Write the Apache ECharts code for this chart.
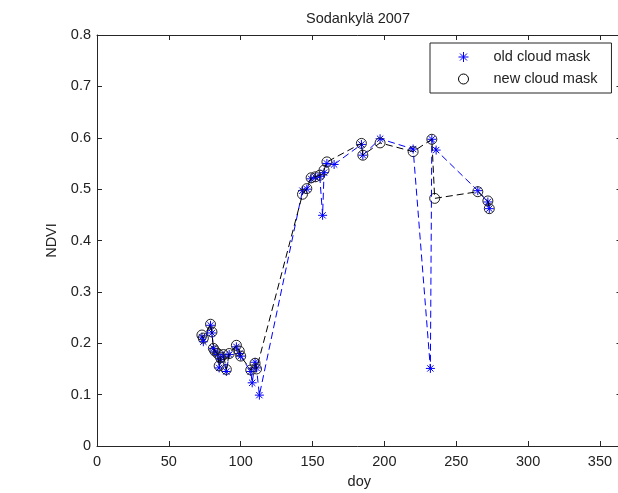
<!DOCTYPE html>
<html>
	<head>
		<meta charset="utf-8">
		<title>Sodankylä 2007</title>
		<script src="https://cdn.jsdelivr.net/npm/echarts@6/dist/echarts.min.js"></script>
		<style>
			html, body { margin:0; padding:0; background:#fff; }
			#chart { width:618px; height:493px; }
		</style>
	</head>
	<body>
		<div id="chart"></div>
		<script type="text/javascript">
			// old cloud mask (blue stars)
			var oldDoy  = [73, 74, 79, 80, 81, 82, 84, 85, 86, 88, 90, 92, 97, 99, 100, 107, 108, 110, 111, 113,
			               143, 146, 149, 152, 155, 157, 158, 160, 165, 184, 185, 197, 220, 232, 233, 236, 265, 272, 273];
			var oldNdvi = [0.212, 0.203, 0.235, 0.22, 0.19, 0.183, 0.178, 0.152, 0.168, 0.175, 0.145, 0.178, 0.193, 0.18, 0.175, 0.145, 0.123, 0.163, 0.152, 0.099,
			               0.497, 0.5, 0.52, 0.523, 0.525, 0.449, 0.532, 0.55, 0.548, 0.587, 0.566, 0.598, 0.578, 0.151, 0.597, 0.576, 0.497, 0.475, 0.462];
			// new cloud mask (black circles)
			var newDoy  = [73, 74, 79, 80, 81, 82, 84, 85, 86, 88, 90, 92, 97, 99, 100, 107, 110, 111,
			               143, 146, 149, 152, 155, 158, 160, 184, 185, 197, 220, 233, 235, 265, 272, 273];
			var newNdvi = [0.216, 0.21, 0.237, 0.222, 0.19, 0.185, 0.18, 0.156, 0.172, 0.178, 0.149, 0.18, 0.196, 0.185, 0.175, 0.148, 0.161, 0.15,
			               0.49, 0.501, 0.522, 0.524, 0.527, 0.537, 0.553, 0.589, 0.566, 0.59, 0.573, 0.597, 0.482, 0.495, 0.477, 0.462];
			var seriesNames = ['old cloud mask', 'new cloud mask'];
			var titleText = 'Sodankylä 2007';

			function pairs(xs, ys) {
				var out = [];
				for (var i = 0; i < xs.length; i++) out.push([xs[i], ys[i]]);
				return out;
			}

			var FONT = 'Liberation Sans';
			var AX = '#262626';
			var starPath = 'path://M5,0L5,10M0,5L10,5M1.5,1.5L8.5,8.5M1.5,8.5L8.5,1.5';

			function axisStyle() {
				return {
					axisLine: {onZero: false, lineStyle: {color: AX, width: 1}},
					axisTick: {inside: true, length: 5, lineStyle: {color: AX}},
					splitLine: {show: false}
				};
			}

			var myChart = echarts.init(document.getElementById('chart'));
			myChart.setOption({
				animation: false,
				backgroundColor: '#fff',
				title: {
					text: titleText,
					left: 301, top: 6,
					textStyle: {fontFamily: FONT, fontSize: 14.5, fontWeight: 'normal', color: '#222'}
				},
				grid: {left: 97, top: 35, width: 524.5, height: 411, containLabel: false, outerBoundsMode: 'none'},
				legend: {
					orient: 'vertical',
					left: 430, top: 43,
					padding: [6, 14, 6, 28],
					itemGap: 6,
					itemWidth: 10, itemHeight: 10,
					backgroundColor: '#fff',
					borderColor: AX, borderWidth: 1, borderRadius: 0,
					textStyle: {fontFamily: FONT, fontSize: 14.5, color: '#222', lineHeight: 16, padding: [0, 0, 0, 20]},
					data: [
						{name: seriesNames[0], icon: starPath, itemStyle: {color: '#0000ff', borderColor: '#0000ff', borderWidth: 1}},
						{name: seriesNames[1], icon: 'circle', itemStyle: {color: 'rgba(0,0,0,0)', borderColor: '#000', borderWidth: 1}}
					]
				},
				xAxis: [
					Object.assign({
						type: 'value', min: 0, max: 365, interval: 50,
						name: 'doy', nameLocation: 'middle', nameGap: 28,
						nameTextStyle: {fontFamily: FONT, fontSize: 14.5, color: '#222'},
						axisLabel: {fontFamily: FONT, fontSize: 14.5, color: '#222', margin: 8}
					}, axisStyle()),
					Object.assign({
						type: 'value', min: 0, max: 365, interval: 50, position: 'top',
						axisLabel: {show: false}
					}, axisStyle())
				],
				yAxis: [
					Object.assign({
						type: 'value', min: 0, max: 0.8, interval: 0.1,
						name: 'NDVI', nameLocation: 'middle', nameGap: 31,
						nameTextStyle: {fontFamily: FONT, fontSize: 14.5, color: '#222'},
						axisLabel: {fontFamily: FONT, fontSize: 14.5, color: '#222', margin: 6}
					}, axisStyle()),
					Object.assign({
						type: 'value', min: 0, max: 0.8, interval: 0.1, position: 'right',
						axisLabel: {show: false}
					}, axisStyle())
				],
				series: [
					{
						name: 'old line', type: 'line', data: pairs(oldDoy, oldNdvi),
						showSymbol: false, symbol: 'none',
						lineStyle: {color: '#0000ff', width: 1, type: [7, 4]},
						silent: true
					},
					{
						name: seriesNames[0], type: 'scatter', data: pairs(oldDoy, oldNdvi),
						symbol: starPath, symbolSize: 9,
						itemStyle: {color: '#0000ff', borderColor: '#0000ff', borderWidth: 1, opacity: 1}
					},
					{
						name: 'new line', type: 'line', data: pairs(newDoy, newNdvi),
						showSymbol: false, symbol: 'none',
						lineStyle: {color: '#000', width: 1, type: [7, 4]},
						silent: true
					},
					{
						name: seriesNames[1], type: 'scatter', data: pairs(newDoy, newNdvi),
						symbol: 'circle', symbolSize: 10,
						itemStyle: {color: 'rgba(0,0,0,0)', borderColor: '#222', borderWidth: 1, opacity: 1}
					}
				]
			});
		</script>
	</body>
</html>
